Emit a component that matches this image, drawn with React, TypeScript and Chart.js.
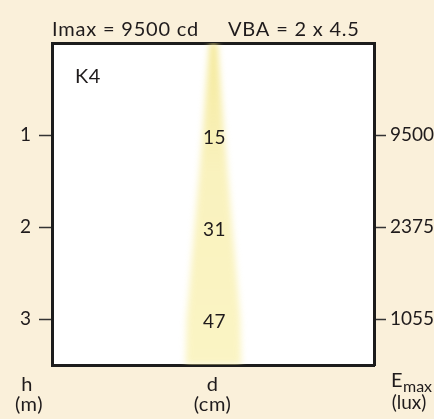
import React, { useEffect, useRef } from "react";
import { Chart, registerables } from "chart.js";

Chart.register(...registerables);

// ---- data ----
const heights = [1, 2, 3]; // h (m)
const diameters = [15, 31, 47]; // d (cm)
const emax = [9500, 2375, 1055]; // Emax (lux)
const beamH = [0, 1, 2, 3, 3.5]; // beam outline heights (m)
const beamD = [8, 22, 38, 54, 56]; // visible beam width (cm)
const titleLeft = "Imax = 9500 cd";
const titleRight = "VBA = 2 x 4.5";
const classLabel = "K4";

const FONT = 'Lato, "Open Sans", sans-serif';
const INK = "#1f1b1c";
const BG = "#faf0da";

export default function App() {
  const ref = useRef<HTMLCanvasElement | null>(null);

  useEffect(() => {
    document.body.style.margin = "0";
    document.body.style.background = BG;
    const canvas = ref.current!;

    const outline = [
      ...beamH.map((h, i) => ({ x: -beamD[i] / 2, y: h })),
      ...beamH
        .map((h, i) => ({ x: beamD[i] / 2, y: h }))
        .reverse(),
    ];

    const blurPlugin = {
      id: "blurBeam",
      beforeDraw(chart: any) {
        const { ctx, chartArea: a } = chart;
        ctx.save();
        ctx.fillStyle = "#ffffff";
        ctx.fillRect(a.left, a.top, a.right - a.left, a.bottom - a.top);
        ctx.restore();
      },
      beforeDatasetsDraw(chart: any) {
        chart.ctx.save();
        chart.ctx.filter = "blur(3px)";
      },
      afterDatasetsDraw(chart: any) {
        chart.ctx.restore();
      },
    };

    const textPlugin = {
      id: "texts",
      afterDraw(chart: any) {
        const { ctx, chartArea: a, scales } = chart;
        const xs = scales.x;
        const ys = scales.y;
        ctx.save();
        ctx.fillStyle = INK;
        ctx.textBaseline = "alphabetic";
        // title
        ctx.font = `20px ${FONT}`;
        (ctx as any).letterSpacing = "0.8px";
        ctx.textAlign = "left";
        ctx.fillText(titleLeft, a.left, 36);
        ctx.fillText(titleRight, 228, 36);
        (ctx as any).letterSpacing = "0.5px";
        // class label
        ctx.font = `20px ${FONT}`;
        ctx.fillText(classLabel, 75, 83);
        // diameter labels
        ctx.font = `19px ${FONT}`;
        ctx.textAlign = "center";
        ctx.textBaseline = "middle";
        const cx = xs.getPixelForValue(0) + 1;
        heights.forEach((h, i) => {
          ctx.fillText(String(diameters[i]), cx, ys.getPixelForValue(h) + 3);
        });
        // bottom axis captions
        ctx.textBaseline = "alphabetic";
        ctx.font = `20px ${FONT}`;
        ctx.fillText("h", 27, 391);
        ctx.fillText("(m)", 29, 411);
        ctx.fillText("d", cx - 2, 391);
        ctx.fillText("(cm)", cx - 2, 411);
        ctx.textAlign = "left";
        ctx.fillText("E", 391, 387);
        ctx.font = `16px ${FONT}`;
        (ctx as any).letterSpacing = "0px";
        ctx.fillText("max", 403, 392);
        ctx.font = `19px ${FONT}`;
        ctx.textAlign = "center";
        ctx.fillText("(lux)", 409, 409);
        ctx.restore();
      },
    };

    const tickFont = { family: FONT, size: 19 };

    const chart = new Chart(canvas, {
      type: "scatter",
      data: {
        datasets: [
          {
            data: outline,
            showLine: true,
            borderWidth: 0,
            pointRadius: 0,
            fill: "shape",
            backgroundColor: (c: any) => {
              const a = c.chart.chartArea;
              if (!a) return "rgba(246,234,150,0.6)";
              const g = c.chart.ctx.createLinearGradient(0, a.top, 0, a.bottom);
              g.addColorStop(0, "rgba(242,228,130,0.8)");
              g.addColorStop(0.4, "rgba(246,234,150,0.62)");
              g.addColorStop(1, "rgba(248,238,160,0.62)");
              return g;
            },
          } as any,
        ],
      },
      options: {
        responsive: false,
        animation: false,
        layout: { padding: 0 },
        plugins: {
          legend: { display: false },
          tooltip: { enabled: false },
          title: { display: false },
        },
        scales: {
          x: {
            type: "linear",
            position: "bottom",
            min: -162,
            max: 161,
            ticks: { display: false },
            grid: { display: false },
            border: { display: true, width: 3, color: "#1c1c1c" },
            z: 1,
            afterFit: (s: any) => {
              s.height = 54;
            },
          },
          x2: {
            type: "linear",
            axis: "x",
            position: "top",
            min: -162,
            max: 161,
            ticks: { display: false },
            grid: { display: false },
            border: { display: true, width: 3, color: "#1c1c1c" },
            z: 1,
            afterFit: (s: any) => {
              s.height = 43;
            },
          } as any,
          y: {
            type: "linear",
            position: "left",
            min: 0,
            max: 3.5,
            reverse: true,
            afterBuildTicks: (s: any) => {
              s.ticks = heights.map((v) => ({ value: v }));
            },
            ticks: {
              font: tickFont,
              color: INK,
              padding: 8,
              callback: (v: any) => String(v),
            },
            grid: {
              display: true,
              drawOnChartArea: false,
              drawTicks: true,
              tickLength: 13,
              tickWidth: 1.5,
              tickColor: "#333",
            } as any,
            border: { display: true, width: 3, color: "#1c1c1c" },
            z: 1,
            afterFit: (s: any) => {
              s.width = 52;
            },
          },
          y2: {
            type: "linear",
            axis: "y",
            position: "right",
            min: 0,
            max: 3.5,
            reverse: true,
            afterBuildTicks: (s: any) => {
              s.ticks = heights.map((v) => ({ value: v }));
            },
            ticks: {
              font: tickFont,
              color: INK,
              padding: 4,
              callback: (v: any) => {
                const i = heights.indexOf(Number(v));
                return i >= 0 ? String(emax[i]) : "";
              },
            },
            grid: {
              display: true,
              drawOnChartArea: false,
              drawTicks: true,
              tickLength: 12,
              tickWidth: 1.5,
              tickColor: "#333",
            } as any,
            border: { display: true, width: 3, color: "#1c1c1c" },
            z: 1,
            afterFit: (s: any) => {
              s.width = 60;
            },
          } as any,
        },
      },
      plugins: [blurPlugin, textPlugin],
    });

    return () => chart.destroy();
  }, []);

  return (
    <div style={{ width: 434, height: 419, background: BG }}>
      <canvas ref={ref} width={434} height={419} style={{ display: "block" }} />
    </div>
  );
}
